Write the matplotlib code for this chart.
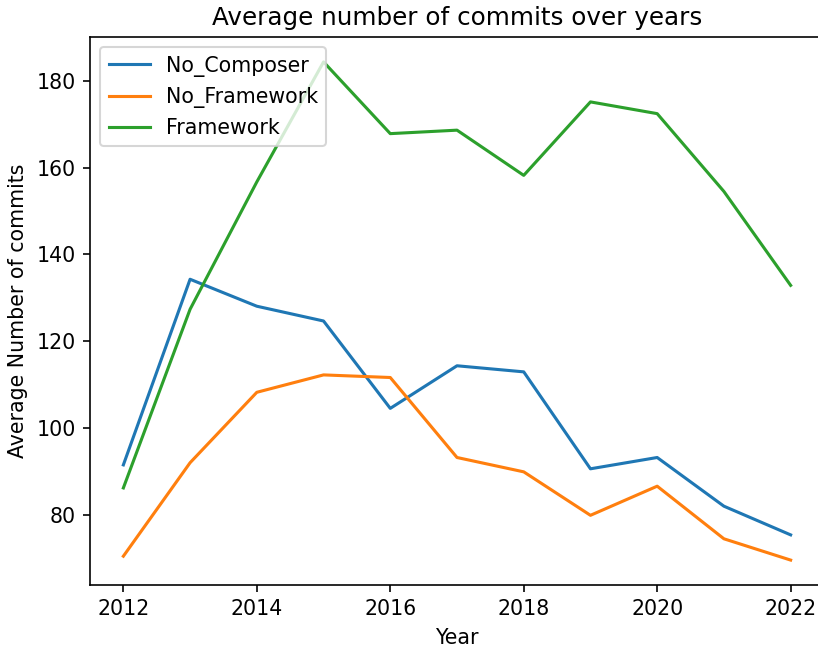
import matplotlib
matplotlib.use("Agg")
import matplotlib.pyplot as plt

years = list(range(2012, 2023))
no_composer = [91.6, 134.3, 128.1, 124.7, 104.6, 114.4, 113.0, 90.7, 93.3, 82.1, 75.5]
no_framework = [70.6, 92.1, 108.3, 112.3, 111.7, 93.3, 90.0, 80.0, 86.7, 74.6, 69.7]
framework = [86.3, 127.4, 156.7, 184.3, 167.8, 168.6, 158.2, 175.1, 172.4, 154.5, 132.9]

DPI = 148
fig = plt.figure(figsize=(818 / DPI, 647 / DPI), dpi=DPI)
# right spine falls just past the image edge, as in the reference
ax = fig.add_axes([90 / 818, (647 - 585) / 647, (824 - 90) / 818, (585 - 37) / 647])

ax.plot(years, no_composer, label="No_Composer")
ax.plot(years, no_framework, label="No_Framework")
ax.plot(years, framework, label="Framework")

ax.set_title("Average number of commits over years")
ax.set_xlabel("Year")
ax.set_ylabel("Average Number of commits")
ax.legend(loc="upper left")

fig.savefig("out.png", dpi=DPI)
